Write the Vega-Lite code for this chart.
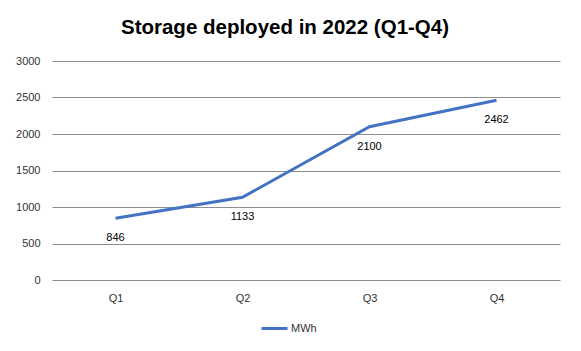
{
  "$schema": "https://vega.github.io/schema/vega-lite/v6.json",
  "autosize": "none",
  "width": 508,
  "height": 219,
  "padding": {"left": 52, "top": 61, "right": 21, "bottom": 71},
  "background": "white",
  "config": {
    "view": {"stroke": null},
    "font": "Liberation Sans"
  },
  "title": {
    "text": "Storage deployed in 2022 (Q1-Q4)",
    "font": "Liberation Sans",
    "fontSize": 20.5,
    "fontWeight": "bold",
    "color": "#000000",
    "anchor": "middle",
    "dx": -21,
    "offset": 17
  },
  "data": {
    "values": [
      {"quarter": "Q1", "value": 846, "series": "MWh"},
      {"quarter": "Q2", "value": 1133, "series": "MWh"},
      {"quarter": "Q3", "value": 2100, "series": "MWh"},
      {"quarter": "Q4", "value": 2462, "series": "MWh"}
    ]
  },
  "encoding": {
    "x": {
      "field": "quarter",
      "type": "ordinal",
      "scale": {"type": "point", "padding": 0.5},
      "axis": {
        "title": null,
        "labelAngle": 0,
        "domain": false,
        "ticks": false,
        "labelPadding": 12,
        "labelFontSize": 11,
        "labelColor": "#333333"
      }
    },
    "y": {
      "field": "value",
      "type": "quantitative",
      "scale": {"domain": [0, 3000], "nice": false},
      "axis": {
        "title": null,
        "format": "d",
        "values": [0, 500, 1000, 1500, 2000, 2500, 3000],
        "domain": false,
        "ticks": false,
        "labelPadding": 12,
        "labelFontSize": 11,
        "labelColor": "#333333",
        "grid": true,
        "gridColor": "#8c8c8c",
        "gridWidth": 1
      }
    }
  },
  "layer": [
    {
      "mark": {"type": "line", "strokeWidth": 3},
      "encoding": {
        "color": {
          "field": "series",
          "type": "nominal",
          "scale": {"range": ["#4472C4"]},
          "legend": {
            "title": null,
            "orient": "none",
            "legendX": 208,
            "legendY": 253,
            "symbolType": "stroke",
            "symbolSize": 676,
            "symbolStrokeWidth": 3,
            "labelFontSize": 11,
            "labelColor": "#333333",
            "labelOffset": 2
          }
        }
      }
    },
    {
      "mark": {"type": "text", "dy": 20, "fontSize": 11, "color": "#000000"},
      "encoding": {
        "text": {"field": "value", "type": "quantitative"}
      }
    }
  ]
}
